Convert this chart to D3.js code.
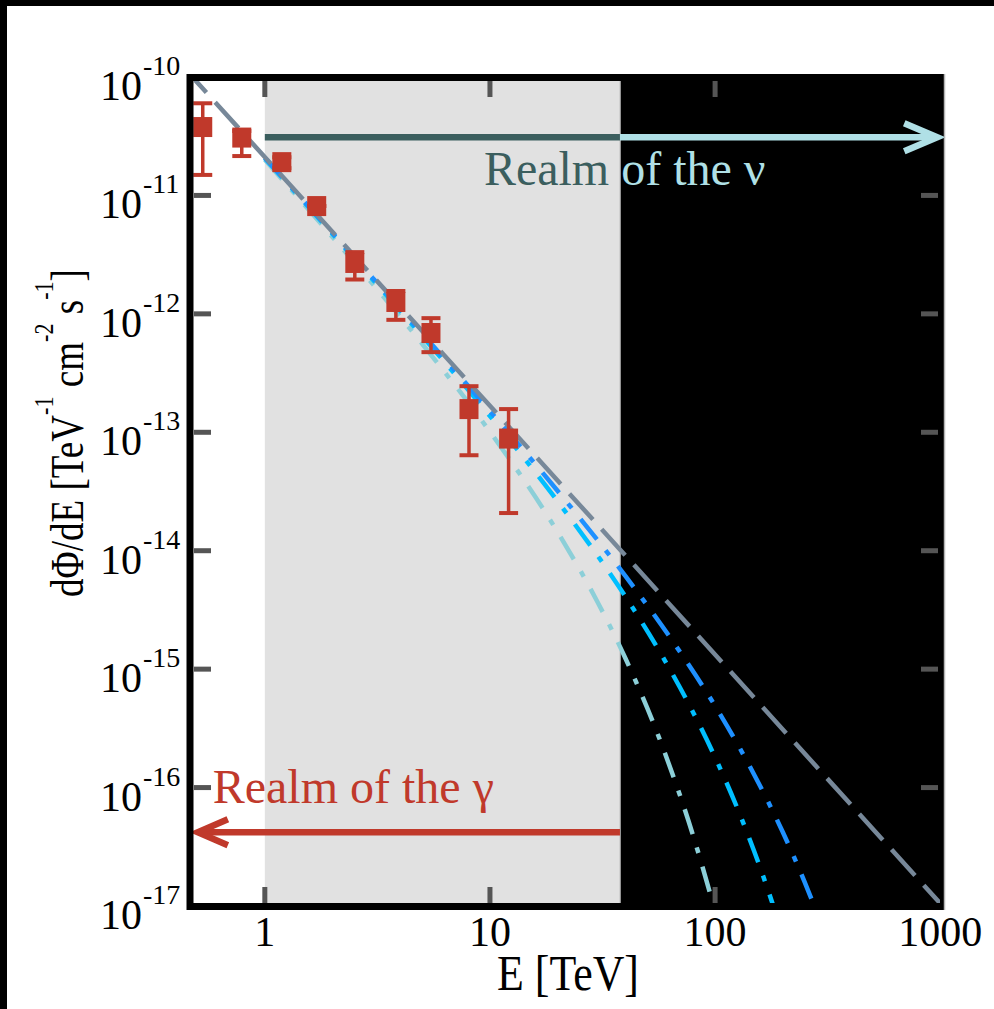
<!DOCTYPE html>
<html>
<head>
<meta charset="utf-8">
<script src="https://cdn.jsdelivr.net/npm/d3@7"></script>
<style>
  html, body { margin: 0; padding: 0; background: #fff; }
  svg { display: block; }
  text { font-family: "Liberation Serif", "Times New Roman", serif; }
</style>
</head>
<body>
<svg id="chart" width="994" height="1009"></svg>
<script>
// ---- measured gamma-ray points (E in TeV, flux in TeV^-1 cm^-2 s^-1)
let pointE = [0.53, 0.79, 1.19, 1.70, 2.51, 3.82, 5.47, 8.07, 12.1];
let pointF = [3.78e-11, 3.08e-11, 1.91e-11, 8.13e-12, 2.69e-12, 1.26e-12, 6.89e-13, 1.57e-13, 8.85e-14];
let pointHi = [6.0e-11, 3.5e-11, 2.1e-11, 8.13e-12, 3.32e-12, 1.56e-12, 9.2e-13, 2.45e-13, 1.57e-13];
let pointLo = [1.49e-11, 2.15e-11, 1.7e-11, 8.13e-12, 1.95e-12, 8.9e-13, 4.75e-13, 6.4e-14, 2.08e-14];

// ---- pure power law (dashed grey), read at the two plot edges
let powerLawE = [0.47, 1050];
let powerLawF = [1.03e-10, 9.5e-18];

// ---- power laws with cutoffs at 20, 50, 100 TeV (dash-dot)
let cut20E = [1, 2, 5, 10, 20, 30, 40, 60, 80, 100, 110];
let cut20F = [2.0e-11, 4.44e-12, 5.58e-13, 1.01e-13, 1.43e-14, 3.71e-15, 1.23e-15, 1.93e-16, 3.89e-17, 8.9e-18, 4.4e-18];
let cut50E = [1, 3, 10, 20, 40, 60, 80, 100, 130, 160, 190];
let cut50F = [2.06e-11, 1.97e-12, 1.37e-13, 2.61e-14, 4.09e-15, 1.17e-15, 4.29e-16, 1.80e-16, 5.69e-17, 2.01e-17, 7.7e-18];
let cut100E = [1, 3, 10, 20, 40, 70, 100, 150, 200, 250, 300];
let cut100F = [2.08e-11, 2.03e-12, 1.51e-13, 3.19e-14, 6.10e-15, 1.39e-15, 4.89e-16, 1.26e-16, 4.19e-17, 1.59e-17, 6.6e-18];

// ---- regions: gamma window and neutrino window (TeV)
let gammaStart = 1;
let gammaEnd = 37.8;

// ---- axes
let xTickValues = [1, 10, 100, 1000];
let xTickLabels = ["1", "10", "100", "1000"];
let yTickExponents = [-10, -11, -12, -13, -14, -15, -16, -17];

let width = 994,
  height = 1009;

let x = d3.scaleLog().domain([0.47, 1050]).range([191, 945]);
let y = d3.scaleLog().domain([1e-17, 1e-10]).range([906, 77]);

let svg = d3.select("#chart");

// page border as in the screenshot
svg.append("rect").attr("x", 0).attr("y", 0).attr("width", width).attr("height", 6).attr("fill", "#000");
svg.append("rect").attr("x", 0).attr("y", 0).attr("width", 7).attr("height", height).attr("fill", "#000");

let plotLeft = x.range()[0], plotRight = x.range()[1] - 1;
let plotTop = y.range()[1], plotBottom = y.range()[0];

svg.append("clipPath").attr("id", "plotClip")
  .append("rect")
  .attr("x", plotLeft + 3).attr("y", plotTop + 4)
  .attr("width", plotRight - plotLeft - 7).attr("height", plotBottom - plotTop - 7);

// background bands
svg.append("rect")
  .attr("x", plotLeft).attr("y", plotTop)
  .attr("width", x(gammaStart) - plotLeft).attr("height", plotBottom - plotTop)
  .attr("fill", "#fff");
svg.append("rect")
  .attr("x", x(gammaStart)).attr("y", plotTop)
  .attr("width", x(gammaEnd) - x(gammaStart)).attr("height", plotBottom - plotTop)
  .attr("fill", "#e1e1e1");
svg.append("rect")
  .attr("x", x(gammaEnd)).attr("y", plotTop)
  .attr("width", plotRight - x(gammaEnd)).attr("height", plotBottom - plotTop)
  .attr("fill", "#000");
svg.append("line")
  .attr("x1", x(gammaEnd)).attr("x2", x(gammaEnd))
  .attr("y1", plotTop).attr("y2", plotBottom)
  .attr("stroke", "#cfcfcf").attr("stroke-width", 1.5);

// ticks (inside, all four sides)
let tickColor = "#555";
let ticks = svg.append("g");
xTickValues.filter(function(d) { return d < 1000; }).forEach(function(d) {
  ticks.append("line")
    .attr("x1", x(d)).attr("x2", x(d))
    .attr("y1", plotTop + 3).attr("y2", plotTop + 20)
    .attr("stroke", tickColor).attr("stroke-width", 5);
  ticks.append("line")
    .attr("x1", x(d)).attr("x2", x(d))
    .attr("y1", plotBottom - 3).attr("y2", plotBottom - 19)
    .attr("stroke", tickColor).attr("stroke-width", 5);
});
yTickExponents.slice(1, -1).forEach(function(e) {
  let v = Math.pow(10, e);
  ticks.append("line")
    .attr("x1", plotLeft + 3).attr("x2", plotLeft + 20)
    .attr("y1", y(v)).attr("y2", y(v))
    .attr("stroke", tickColor).attr("stroke-width", 5);
  ticks.append("line")
    .attr("x1", plotRight - 23).attr("x2", plotRight - 6)
    .attr("y1", y(v)).attr("y2", y(v))
    .attr("stroke", tickColor).attr("stroke-width", 5);
});

// model curves
let line = d3.line()
  .x(function(d) { return x(d[0]); })
  .y(function(d) { return y(d[1]); })
  .curve(d3.curveMonotoneX);

let curves = svg.append("g").attr("clip-path", "url(#plotClip)");

let cutoffSeries = [
  { e: cut20E, f: cut20F, color: "#8ccfd8" },
  { e: cut50E, f: cut50F, color: "#00bfff" },
  { e: cut100E, f: cut100F, color: "#1e90ff" }
];
cutoffSeries.forEach(function(s) {
  curves.append("path")
    .datum(d3.zip(s.e, s.f))
    .attr("d", line)
    .attr("fill", "none")
    .attr("stroke", s.color)
    .attr("stroke-width", 4.5)
    .attr("stroke-dasharray", "26,14,6,14");
});

curves.append("path")
  .datum(d3.zip(powerLawE, powerLawF))
  .attr("d", line)
  .attr("fill", "none")
  .attr("stroke", "#778899")
  .attr("stroke-width", 4.5)
  .attr("stroke-dasharray", "35,13")
  .attr("stroke-dashoffset", 12);

// realm of the nu: arrow + label
let nuY = y(3.1e-11);
let nuTip = x(970);
svg.append("line")
  .attr("x1", x(gammaStart)).attr("x2", x(gammaEnd))
  .attr("y1", nuY).attr("y2", nuY)
  .attr("stroke", "#3b5e5e").attr("stroke-width", 6.5);
svg.append("line")
  .attr("x1", x(gammaEnd)).attr("x2", nuTip - 2)
  .attr("y1", nuY).attr("y2", nuY)
  .attr("stroke", "#b0e0e6").attr("stroke-width", 6.5);
svg.append("path")
  .attr("d", "M" + (nuTip - 33) + "," + (nuY - 14) + "L" + nuTip + "," + nuY + "L" + (nuTip - 33) + "," + (nuY + 14))
  .attr("fill", "none").attr("stroke", "#b0e0e6").attr("stroke-width", 6.5);

let nuText = svg.append("text")
  .attr("x", x(9.4)).attr("y", y(1.22e-11))
  .attr("font-size", 48);
nuText.append("tspan").attr("fill", "#3b5e5e").text("Realm ");
nuText.append("tspan").attr("fill", "#b0e0e6").text("of the \u03bd");

// realm of the gamma: arrow + label
let gamY = y(4.2e-17);
let gamTip = x(0.504);
svg.append("line")
  .attr("x1", x(gammaEnd)).attr("x2", gamTip + 2)
  .attr("y1", gamY).attr("y2", gamY)
  .attr("stroke", "#c0392b").attr("stroke-width", 6.5);
svg.append("path")
  .attr("d", "M" + (gamTip + 30) + "," + (gamY - 13) + "L" + gamTip + "," + gamY + "L" + (gamTip + 30) + "," + (gamY + 13))
  .attr("fill", "none").attr("stroke", "#c0392b").attr("stroke-width", 6.5);
svg.append("text")
  .attr("x", x(0.587)).attr("y", y(7.4e-17))
  .attr("font-size", 48)
  .attr("fill", "#c0392b")
  .text("Realm of the \u03b3");

// data points with error bars
let red = "#c0392b";
let pts = svg.append("g").selectAll(".pt")
  .data(d3.range(pointE.length))
  .enter().append("g").attr("class", "pt");
pts.append("line")
  .attr("x1", function(i) { return x(pointE[i]); })
  .attr("x2", function(i) { return x(pointE[i]); })
  .attr("y1", function(i) { return y(pointHi[i]); })
  .attr("y2", function(i) { return y(pointLo[i]); })
  .attr("stroke", red).attr("stroke-width", 3.5);
[pointHi, pointLo].forEach(function(arr) {
  pts.append("line")
    .attr("x1", function(i) { return x(pointE[i]) - 9.5; })
    .attr("x2", function(i) { return x(pointE[i]) + 9.5; })
    .attr("y1", function(i) { return y(arr[i]); })
    .attr("y2", function(i) { return y(arr[i]); })
    .attr("stroke", red).attr("stroke-width", 4);
});
pts.append("rect")
  .attr("x", function(i) { return x(pointE[i]) - 9.5; })
  .attr("y", function(i) { return y(pointF[i]) - 10; })
  .attr("width", 19).attr("height", 20)
  .attr("fill", red);

// frame: thick black on left, top, bottom; thin grey edge on the right
let frameL = plotLeft - 1, frameT = plotTop + 0.5, frameB = plotBottom + 0.5;
svg.append("path")
  .attr("d", "M" + plotRight + "," + frameT + "H" + frameL + "V" + frameB + "H" + plotRight)
  .attr("fill", "none").attr("stroke", "#000").attr("stroke-width", 7);
svg.append("line")
  .attr("x1", plotRight + 0.5).attr("x2", plotRight + 0.5)
  .attr("y1", frameT - 3.5).attr("y2", frameB + 3.5)
  .attr("stroke", "#b5b5b5").attr("stroke-width", 1.5);

// x tick labels
svg.append("g").selectAll("text")
  .data(xTickValues)
  .enter().append("text")
  .attr("x", function(d) { return x(d); })
  .attr("y", 946)
  .attr("text-anchor", "middle")
  .attr("font-size", 42)
  .attr("fill", "#000")
  .text(function(d, i) { return xTickLabels[i]; });

// y tick labels as 10^n
let yLab = svg.append("g").selectAll("g")
  .data(yTickExponents)
  .enter().append("g");
yLab.append("text")
  .attr("x", 100)
  .attr("y", function(e) { return y(Math.pow(10, e)) + 23; })
  .attr("font-size", 42)
  .text("10");
yLab.append("text")
  .attr("x", 143)
  .attr("y", function(e) { return y(Math.pow(10, e)) - 2; })
  .attr("font-size", 28)
  .text(function(e) { return "-" + Math.abs(e); });

// x axis title
let xTitle = svg.append("text")
  .attr("x", 0).attr("y", 0)
  .attr("font-size", 50)
  .attr("text-anchor", "middle")
  .text("E [TeV]");
let xTitleW = xTitle.node().getComputedTextLength();
xTitle.attr("transform", "translate(568,990) scale(" + (142 / xTitleW) + ",1)");

// y axis title
let yTitle = svg.append("text")
  .attr("x", 0).attr("y", 0)
  .attr("font-size", 47)
  .attr("text-anchor", "middle");
yTitle.append("tspan").text("d\u03a6/dE [TeV");
yTitle.append("tspan").attr("font-size", 28).attr("dy", -30).text("-1");
yTitle.append("tspan").attr("dy", 30).text(" cm");
yTitle.append("tspan").attr("font-size", 28).attr("dy", -30).text("-2");
yTitle.append("tspan").attr("dy", 30).text(" s");
yTitle.append("tspan").attr("font-size", 28).attr("dy", -30).text("-1");
yTitle.append("tspan").attr("dy", 30).text("]");
let yTitleW = yTitle.node().getComputedTextLength();
yTitle.attr("transform", "translate(83,433) rotate(-90) scale(" + (328 / yTitleW) + ",1)");
</script>
</body>
</html>
